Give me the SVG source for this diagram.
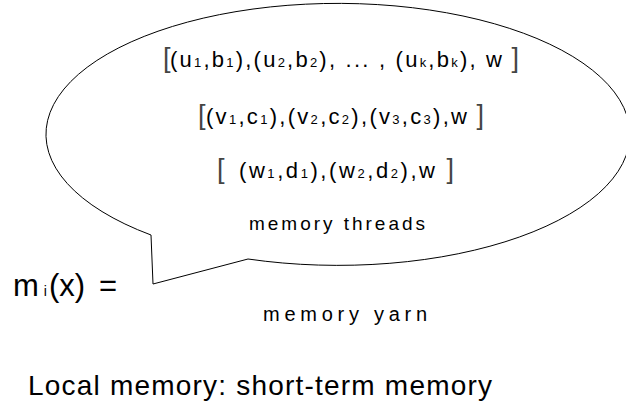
<svg xmlns="http://www.w3.org/2000/svg" width="626" height="408" viewBox="0 0 626 408">
<style>
text{font-family:"Liberation Sans",Arial,sans-serif;fill:#000}
.ln{font-size:22px}
.br{font-size:27px;fill:#444;font-weight:300}
.sb{font-size:13px}
.bubble{fill:#fff;stroke:#000;stroke-width:1}
</style>
<rect width="626" height="408" fill="#fff"/>
<g id="bubble">
<path class="bubble" d="M151,235 L153,284 L248,259 A292,131 0 1 0 151,235 Z"/>
</g>
<g id="thread1">
<text class="br" x="163" y="67">[</text>
<text class="ln" x="170" y="67" textLength="332" lengthAdjust="spacing">(u<tspan class="sb">1</tspan>,b<tspan class="sb">1</tspan>),(u<tspan class="sb">2</tspan>,b<tspan class="sb">2</tspan>), ... , (u<tspan class="sb">k</tspan>,b<tspan class="sb">k</tspan>), w</text>
<text class="br" x="519" y="67" text-anchor="end">]</text>
</g>
<g id="thread2">
<text class="br" x="198" y="124">[</text>
<text class="ln" x="206" y="124" textLength="261" lengthAdjust="spacing">(v<tspan class="sb">1</tspan>,c<tspan class="sb">1</tspan>),(v<tspan class="sb">2</tspan>,c<tspan class="sb">2</tspan>),(v<tspan class="sb">3</tspan>,c<tspan class="sb">3</tspan>),w</text>
<text class="br" x="484" y="124" text-anchor="end">]</text>
</g>
<g id="thread3">
<text class="br" x="217" y="178">[</text>
<text class="ln" x="239" y="178" textLength="196" lengthAdjust="spacing">(w<tspan class="sb">1</tspan>,d<tspan class="sb">1</tspan>),(w<tspan class="sb">2</tspan>,d<tspan class="sb">2</tspan>),w</text>
<text class="br" x="454" y="178" text-anchor="end">]</text>
</g>
<g id="threads-label">
<text x="249" y="230" font-size="19" textLength="176" lengthAdjust="spacing">memory threads</text>
</g>
<g id="mi">
<text x="13" y="296" font-size="31">m<tspan font-size="14" dx="5">i</tspan><tspan dx="2">(x)</tspan><tspan dx="14">=</tspan></text>
</g>
<g id="yarn-label">
<text x="263" y="321" font-size="20" textLength="164" lengthAdjust="spacing">memory yarn</text>
</g>
<g id="caption">
<text x="28" y="395" font-size="28" textLength="464" lengthAdjust="spacing">Local memory: short-term memory</text>
</g>
<g id="connectors"></g>
</svg>
